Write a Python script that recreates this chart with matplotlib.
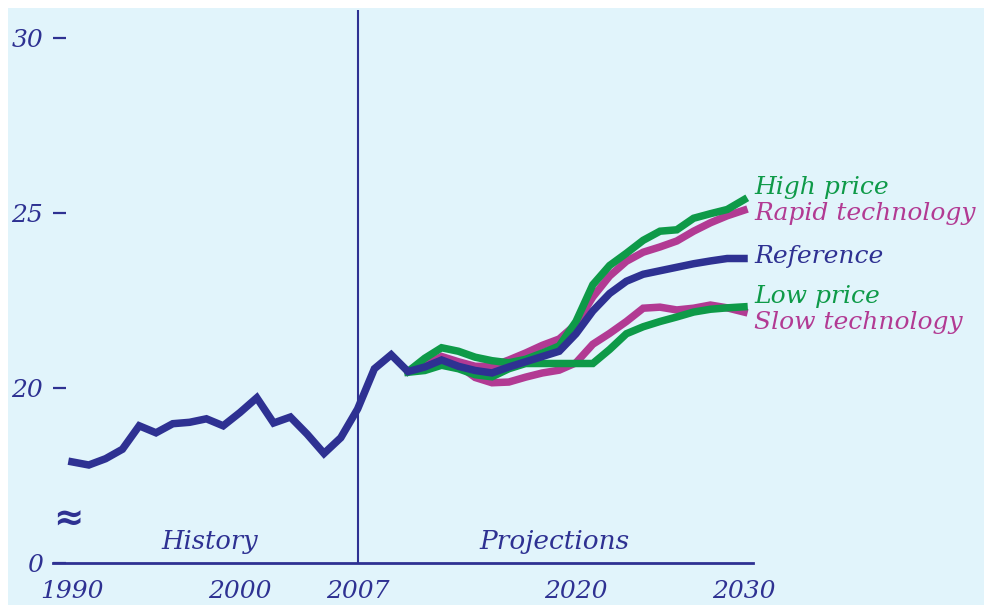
import matplotlib
matplotlib.use("Agg")
import matplotlib.pyplot as plt
from matplotlib.patches import Rectangle
import numpy as np

# ---------------- data ----------------
hist_years = list(range(1990, 2010))
hist_values = [17.89, 17.80, 17.98, 18.25, 18.92, 18.72, 18.98, 19.02, 19.12, 18.92,
               19.30, 19.72, 19.00, 19.17, 18.68, 18.13, 18.58, 19.40, 20.55, 20.95]

proj_years = list(range(2010, 2031))
reference = [20.47, 20.60, 20.80, 20.62, 20.50, 20.43, 20.60, 20.75, 20.90, 21.05,
             21.55, 22.20, 22.70, 23.05, 23.25, 23.35, 23.45, 23.55, 23.63, 23.70, 23.70]
high_price = [20.47, 20.85, 21.15, 21.05, 20.88, 20.78, 20.72, 20.82, 21.00, 21.20,
              21.90, 22.95, 23.50, 23.85, 24.22, 24.48, 24.52, 24.85, 24.98, 25.10, 25.38]
rapid_tech = [20.47, 20.65, 20.90, 20.75, 20.62, 20.62, 20.80, 21.00, 21.22, 21.40,
              21.82, 22.60, 23.20, 23.62, 23.88, 24.03, 24.20, 24.48, 24.72, 24.92, 25.08]
low_price = [20.45, 20.50, 20.65, 20.55, 20.38, 20.32, 20.55, 20.70, 20.70, 20.70,
             20.70, 20.70, 21.10, 21.55, 21.75, 21.90, 22.03, 22.17, 22.25, 22.29, 22.32]
slow_tech = [20.47, 20.60, 20.85, 20.65, 20.30, 20.15, 20.17, 20.31, 20.43, 20.51,
             20.72, 21.25, 21.56, 21.90, 22.28, 22.31, 22.23, 22.28, 22.37, 22.29, 22.17]

series_labels = ["High price", "Rapid technology", "Reference", "Low price", "Slow technology"]
label_yvals = [25.74, 24.98, 23.77, 22.60, 21.87]

x_ticks = [1990, 2000, 2007, 2020, 2030]
y_ticks = [15, 20, 25, 30]
y_tick_labels = ["0", "20", "25", "30"]

# ---------------- style ----------------
NAVY = "#2E3192"
GREEN = "#0E9A48"
MAGENTA = "#B23A93"
BG = "#E1F4FB"

W, H = 984, 605
fig = plt.figure(figsize=(W / 100, H / 100), dpi=100, facecolor="white")
fig.patches.append(Rectangle((8 / W, 0), 1, (H - 8) / H, transform=fig.transFigure,
                             facecolor=BG, edgecolor="none", zorder=-10))

ax_left, ax_right = 53, 753
ax_top, ax_bottom = 10, 563
ax = fig.add_axes([ax_left / W, 1 - ax_bottom / H, (ax_right - ax_left) / W, (ax_bottom - ax_top) / H])
ax.set_facecolor("none")

px_per_year = 16.8
ax.set_xlim(1990 - 19 / px_per_year, 1990 - 19 / px_per_year + (ax_right - ax_left) / px_per_year)
ax.set_ylim(15, 15 + (ax_bottom - ax_top) / 35.0)

for s in ["top", "right", "left"]:
    ax.spines[s].set_visible(False)
ax.spines["bottom"].set_color(NAVY)
ax.spines["bottom"].set_linewidth(2.0)

font = dict(family="DejaVu Serif", style="italic")

ax.set_xticks(x_ticks)
ax.set_xticklabels([str(t) for t in x_ticks], fontsize=18, color=NAVY, **font)
ax.tick_params(axis="x", length=0, pad=12)
ax.set_yticks(y_ticks)
ax.set_yticklabels(y_tick_labels, fontsize=18, color=NAVY, **font)
ax.tick_params(axis="y", direction="in", length=9, width=1.6, color=NAVY, pad=7)

# divider line at 2007
ax.axvline(2007, color=NAVY, lw=1.5, zorder=1)

lw = 5.4
ax.plot(proj_years, slow_tech, color=MAGENTA, lw=lw, solid_joinstyle="miter", zorder=2)
ax.plot(proj_years, rapid_tech, color=MAGENTA, lw=lw, solid_joinstyle="miter", zorder=2)
ax.plot(proj_years, low_price, color=GREEN, lw=lw, solid_joinstyle="miter", zorder=3)
ax.plot(proj_years, high_price, color=GREEN, lw=lw, solid_joinstyle="miter", zorder=3)
ax.plot(hist_years + proj_years, hist_values + reference, color=NAVY, lw=lw,
        solid_joinstyle="miter", zorder=4)

label_colors = [GREEN, MAGENTA, NAVY, GREEN, MAGENTA]
for lab, yv, c in zip(series_labels, label_yvals, label_colors):
    ax.text(2030.6, yv, lab, color=c, fontsize=18, va="center", ha="left",
            clip_on=False, **font)

ax.text(1998.2, 15.6, "History", color=NAVY, fontsize=18.5, ha="center", va="center", **font)
ax.text(2018.7, 15.6, "Projections", color=NAVY, fontsize=19, ha="center", va="center", **font)

# axis break symbol
ax.text(1989.8, 16.25, "≈", color=NAVY, fontsize=26, fontweight="bold", ha="center",
        va="center", family="DejaVu Sans", clip_on=False)

fig.savefig("out.png", dpi=100, facecolor="white")
